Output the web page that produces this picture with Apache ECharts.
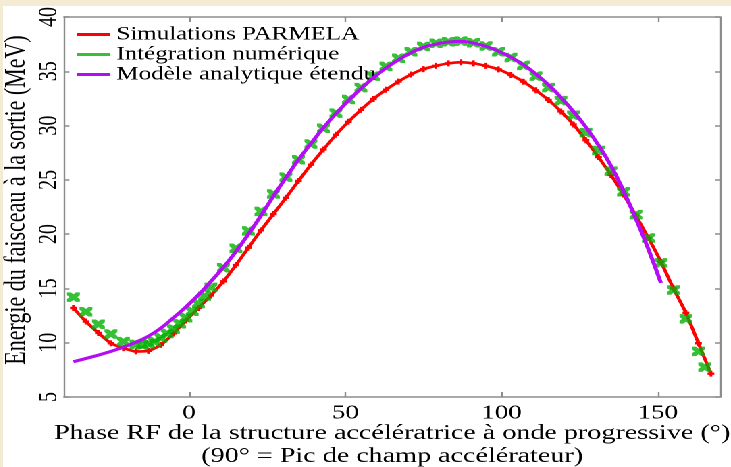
<!DOCTYPE html>
<html>
<head>
<meta charset="utf-8">
<script src="https://cdn.jsdelivr.net/npm/echarts@6/dist/echarts.min.js"></script>
<style>
html, body { margin:0; padding:0; width:731px; height:467px; overflow:hidden; background:#f4ebd5; }
/* the original figure is stretched sideways, so the chart is drawn narrow and widened */
#view { position:absolute; left:3px; top:6px; width:539px; height:461px; background:#fff;
        transform:scaleX(1.3506); transform-origin:0 0; }
</style>
</head>
<body>
<div id="view"></div>
<script>
var phaseTicks = [0, 50, 100, 150]
var energyTicks = [5, 10, 15, 20, 25, 30, 35, 40]

// Simulations PARMELA
var redPhase = [-37,-33,-29,-25,-21,-17,-13,-9,-5,-1,3,7,11,15,19,23,27,31,35,39,43,47,51,55,59,63,67,71,75,79,83,87,91,95,99,103,107,111,115,119,123,127,131,135,139,143,147,151,155,159,163,167]
var redEnergy = [13.2,11.95,10.9,9.95,9.5,9.2,9.25,9.8,10.85,12.05,13.2,14.35,15.65,17.15,18.75,20.35,21.85,23.35,24.9,26.4,27.8,29.15,30.35,31.45,32.45,33.3,34.05,34.7,35.2,35.5,35.73,35.83,35.73,35.5,35.18,34.66,34.04,33.25,32.36,31.3,30.1,28.65,27.1,25.45,23.65,21.7,19.65,17.45,15.0,12.75,9.95,7.15]

// Intégration numérique
var greenPhase = [-37,-33,-29,-25,-21,-17,-15,-13,-11,-9,-7,-5,-3,-1,1,3,5,7,11,15,19,23,27,31,35,39,43,47,51,55,59,63,67,71,75,79,83,87,91,95,99,103,107,111,115,119,123,127,131,135,139,143,147,151,155,159,163,165]
var greenEnergy = [14.2,12.85,11.7,10.8,10.1,9.85,9.8,9.9,10.1,10.45,10.85,11.25,11.75,12.3,12.9,13.6,14.3,15.1,16.9,18.7,20.3,22.1,23.7,25.25,26.85,28.3,29.75,31.15,32.4,33.5,34.55,35.45,36.2,36.8,37.28,37.58,37.72,37.78,37.63,37.33,36.8,36.27,35.55,34.55,33.5,32.3,30.95,29.35,27.7,25.8,23.9,21.8,19.65,17.35,14.85,12.2,9.2,7.75]

// Modèle analytique étendu
var magPhase = [-37,-31,-25,-21,-17,-13,-9,-5,-1,3,7,11,15,19,23,27,31,35,39,43,47,51,55,59,63,67,71,75,79,83,87,91,95,99,103,107,111,115,119,123,127,131,135,139,143,147,151]
var magEnergy = [8.25,8.7,9.2,9.6,10.05,10.6,11.35,12.3,13.3,14.4,15.65,16.95,18.4,20.0,21.7,23.5,25.2,26.85,28.35,29.8,31.1,32.3,33.4,34.4,35.3,36.05,36.7,37.2,37.5,37.7,37.75,37.6,37.3,36.85,36.3,35.6,34.75,33.75,32.6,31.3,29.85,28.2,26.3,24.0,21.4,18.6,15.5]

function pairs (xs, ys) {
    var out = []
    for (var i = 0; i < xs.length; i++) out.push([xs[i], ys[i]])
    return out
}

var serif = 'Liberation Serif'
var frame = '#8c8c8c'

var mychart = echarts.init(document.getElementById('view'), null, {devicePixelRatio: 2})
var options = {
    animation: false,
    textStyle: {fontFamily: serif, color: '#000'},
    grid: {left: 45.2, right: 7.9, top: 11, bottom: 70, outerBoundsMode: 'none'},
    legend: {
        orient: 'vertical', left: 55, top: 19, padding: 0, itemGap: 1,
        icon: 'rect', itemWidth: 24, itemHeight: 3,
        textStyle: {fontFamily: serif, fontSize: 18.5, color: '#000'},
        data: ['Simulations PARMELA', 'Intégration numérique', 'Modèle analytique étendu']
    },
    xAxis: [{
        type: 'value', min: -40, max: 170,
        name: 'Phase RF de la structure accélératrice à onde progressive (°)\n(90° = Pic de champ accélérateur)',
        nameLocation: 'middle', nameGap: 25, nameMoveOverlap: false,
        nameTextStyle: {fontFamily: serif, fontSize: 20.8, lineHeight: 23, color: '#000'},
        axisLine: {onZero: false, lineStyle: {color: frame, width: 1.5}},
        axisTick: {inside: true, length: 5, customValues: phaseTicks, lineStyle: {color: frame, width: 1.2}},
        axisLabel: {customValues: phaseTicks, margin: 6, fontFamily: serif, fontSize: 20, color: '#000'},
        splitLine: {show: false}
    }, {
        type: 'value', min: -40, max: 170, position: 'top',
        axisLine: {onZero: false, lineStyle: {color: frame, width: 1.5}},
        axisTick: {inside: true, length: 5, customValues: phaseTicks, lineStyle: {color: frame, width: 1.2}},
        axisLabel: {show: false},
        splitLine: {show: false}
    }],
    yAxis: [{
        type: 'value', min: 5, max: 40, interval: 5,
        name: 'Energie du faisceau à la sortie (MeV)',
        nameLocation: 'middle', nameGap: 24, nameMoveOverlap: false,
        nameTextStyle: {fontFamily: serif, fontSize: 22, color: '#000', padding: [0, 0, 0, 14]},
        axisLine: {onZero: false, lineStyle: {color: frame, width: 1.2}},
        axisTick: {inside: true, length: 4, lineStyle: {color: frame, width: 1.5}},
        axisLabel: {rotate: 90, margin: 1, fontFamily: serif, fontSize: 20, color: '#000'},
        splitLine: {show: false}
    }, {
        type: 'value', min: 5, max: 40, interval: 5, position: 'right',
        axisLine: {onZero: false, lineStyle: {color: frame, width: 1.2}},
        axisTick: {inside: true, length: 4, lineStyle: {color: frame, width: 1.5}},
        axisLabel: {show: false},
        splitLine: {show: false}
    }],
    series: [{
        name: 'Simulations PARMELA',
        type: 'line',
        data: pairs(redPhase, redEnergy),
        color: '#ff0000',
        lineStyle: {width: 2.6},
        symbol: 'path://M3,0H7V3H10V7H7V10H3V7H0V3H3Z',
        symbolSize: [5, 6],
        showSymbol: true,
        smooth: 0.2,
        z: 2
    }, {
        name: 'Intégration numérique',
        type: 'scatter',
        data: pairs(greenPhase, greenEnergy),
        color: '#04b004',
        symbol: 'path://M0,0L3,0L5,2L7,0L10,0L10,3L8,5L10,7L10,10L7,10L5,8L3,10L0,10L0,7L2,5L0,3Z',
        symbolSize: 9.5,
        z: 3
    }, {
        name: 'Modèle analytique étendu',
        type: 'line',
        data: pairs(magPhase, magEnergy),
        color: '#b40cf5',
        lineStyle: {width: 3},
        showSymbol: false,
        symbol: 'none',
        smooth: true,
        z: 4
    }]
}
mychart.setOption(options)
</script>
</body>
</html>
